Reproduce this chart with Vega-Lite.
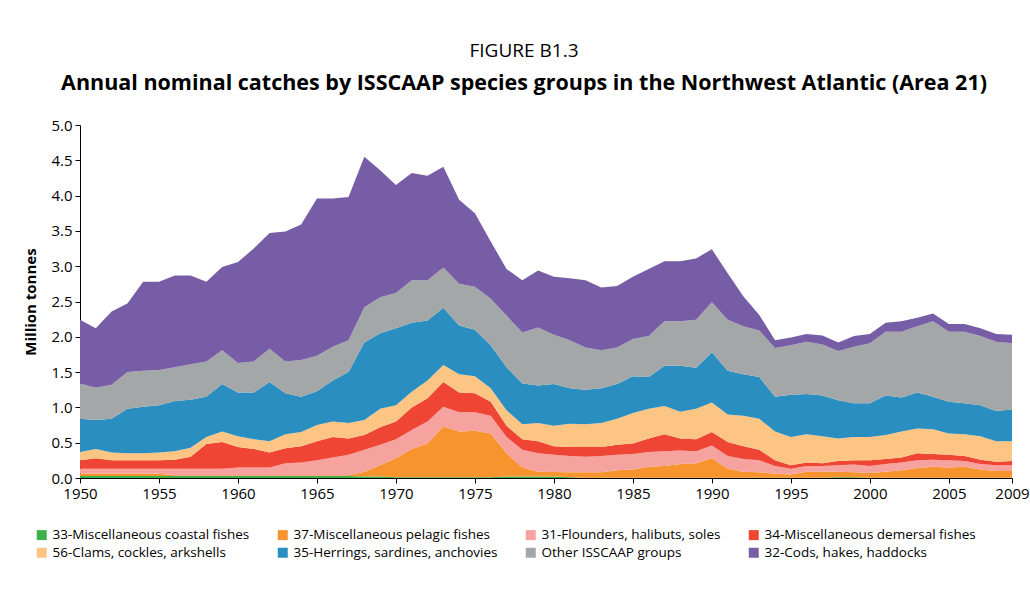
{
"$schema": "https://vega.github.io/schema/vega-lite/v6.json",
"width": 932, "height": 353,
"autosize": {"type": "none"},
"padding": {"left": 80, "top": 125, "right": 18, "bottom": 114},
"background": "white",
"config": {"view": {"stroke": null}, "font": "Open Sans"},
"title": {"text": "FIGURE B1.3", "subtitle": "Annual nominal catches by ISSCAAP species groups in the Northwest Atlantic (Area 21)", "anchor": "middle", "dx": -22, "fontSize": 19, "fontWeight": "normal", "color": "black", "subtitleFontSize": 21.5, "subtitleFontWeight": "bold", "subtitleColor": "black", "subtitleFont": "Open Sans", "offset": 24, "subtitlePadding": 12},
"data": {"values": [
{"y":1950,"g":"a","v":0.03},{"y":1950,"g":"b","v":0.035},{"y":1950,"g":"c","v":0.065},{"y":1950,"g":"d","v":0.12},{"y":1950,"g":"e","v":0.12},{"y":1950,"g":"f","v":0.47},{"y":1950,"g":"g","v":0.5},{"y":1950,"g":"h","v":0.9},
{"y":1951,"g":"a","v":0.03},{"y":1951,"g":"b","v":0.035},{"y":1951,"g":"c","v":0.065},{"y":1951,"g":"d","v":0.15},{"y":1951,"g":"e","v":0.13},{"y":1951,"g":"f","v":0.41},{"y":1951,"g":"g","v":0.46},{"y":1951,"g":"h","v":0.84},
{"y":1952,"g":"a","v":0.03},{"y":1952,"g":"b","v":0.035},{"y":1952,"g":"c","v":0.065},{"y":1952,"g":"d","v":0.12},{"y":1952,"g":"e","v":0.11},{"y":1952,"g":"f","v":0.48},{"y":1952,"g":"g","v":0.48},{"y":1952,"g":"h","v":1.04},
{"y":1953,"g":"a","v":0.03},{"y":1953,"g":"b","v":0.035},{"y":1953,"g":"c","v":0.065},{"y":1953,"g":"d","v":0.12},{"y":1953,"g":"e","v":0.1},{"y":1953,"g":"f","v":0.63},{"y":1953,"g":"g","v":0.52},{"y":1953,"g":"h","v":0.97},
{"y":1954,"g":"a","v":0.03},{"y":1954,"g":"b","v":0.035},{"y":1954,"g":"c","v":0.065},{"y":1954,"g":"d","v":0.12},{"y":1954,"g":"e","v":0.1},{"y":1954,"g":"f","v":0.66},{"y":1954,"g":"g","v":0.51},{"y":1954,"g":"h","v":1.26},
{"y":1955,"g":"a","v":0.03},{"y":1955,"g":"b","v":0.03},{"y":1955,"g":"c","v":0.07},{"y":1955,"g":"d","v":0.12},{"y":1955,"g":"e","v":0.11},{"y":1955,"g":"f","v":0.67},{"y":1955,"g":"g","v":0.5},{"y":1955,"g":"h","v":1.25},
{"y":1956,"g":"a","v":0.03},{"y":1956,"g":"b","v":0.01},{"y":1956,"g":"c","v":0.09},{"y":1956,"g":"d","v":0.13},{"y":1956,"g":"e","v":0.12},{"y":1956,"g":"f","v":0.71},{"y":1956,"g":"g","v":0.48},{"y":1956,"g":"h","v":1.3},
{"y":1957,"g":"a","v":0.03},{"y":1957,"g":"b","v":0.01},{"y":1957,"g":"c","v":0.09},{"y":1957,"g":"d","v":0.17},{"y":1957,"g":"e","v":0.13},{"y":1957,"g":"f","v":0.68},{"y":1957,"g":"g","v":0.5},{"y":1957,"g":"h","v":1.26},
{"y":1958,"g":"a","v":0.03},{"y":1958,"g":"b","v":0.01},{"y":1958,"g":"c","v":0.09},{"y":1958,"g":"d","v":0.35},{"y":1958,"g":"e","v":0.1},{"y":1958,"g":"f","v":0.57},{"y":1958,"g":"g","v":0.5},{"y":1958,"g":"h","v":1.13},
{"y":1959,"g":"a","v":0.03},{"y":1959,"g":"b","v":0.01},{"y":1959,"g":"c","v":0.09},{"y":1959,"g":"d","v":0.38},{"y":1959,"g":"e","v":0.15},{"y":1959,"g":"f","v":0.67},{"y":1959,"g":"g","v":0.48},{"y":1959,"g":"h","v":1.18},
{"y":1960,"g":"a","v":0.03},{"y":1960,"g":"b","v":0.01},{"y":1960,"g":"c","v":0.11},{"y":1960,"g":"d","v":0.29},{"y":1960,"g":"e","v":0.15},{"y":1960,"g":"f","v":0.62},{"y":1960,"g":"g","v":0.42},{"y":1960,"g":"h","v":1.43},
{"y":1961,"g":"a","v":0.03},{"y":1961,"g":"b","v":0.01},{"y":1961,"g":"c","v":0.11},{"y":1961,"g":"d","v":0.26},{"y":1961,"g":"e","v":0.14},{"y":1961,"g":"f","v":0.66},{"y":1961,"g":"g","v":0.44},{"y":1961,"g":"h","v":1.6},
{"y":1962,"g":"a","v":0.03},{"y":1962,"g":"b","v":0.01},{"y":1962,"g":"c","v":0.11},{"y":1962,"g":"d","v":0.21},{"y":1962,"g":"e","v":0.16},{"y":1962,"g":"f","v":0.84},{"y":1962,"g":"g","v":0.47},{"y":1962,"g":"h","v":1.64},
{"y":1963,"g":"a","v":0.03},{"y":1963,"g":"b","v":0.01},{"y":1963,"g":"c","v":0.17},{"y":1963,"g":"d","v":0.21},{"y":1963,"g":"e","v":0.2},{"y":1963,"g":"f","v":0.58},{"y":1963,"g":"g","v":0.45},{"y":1963,"g":"h","v":1.84},
{"y":1964,"g":"a","v":0.03},{"y":1964,"g":"b","v":0.01},{"y":1964,"g":"c","v":0.18},{"y":1964,"g":"d","v":0.23},{"y":1964,"g":"e","v":0.2},{"y":1964,"g":"f","v":0.5},{"y":1964,"g":"g","v":0.52},{"y":1964,"g":"h","v":1.92},
{"y":1965,"g":"a","v":0.03},{"y":1965,"g":"b","v":0.01},{"y":1965,"g":"c","v":0.21},{"y":1965,"g":"d","v":0.27},{"y":1965,"g":"e","v":0.23},{"y":1965,"g":"f","v":0.48},{"y":1965,"g":"g","v":0.5},{"y":1965,"g":"h","v":2.23},
{"y":1966,"g":"a","v":0.03},{"y":1966,"g":"b","v":0.01},{"y":1966,"g":"c","v":0.25},{"y":1966,"g":"d","v":0.29},{"y":1966,"g":"e","v":0.22},{"y":1966,"g":"f","v":0.58},{"y":1966,"g":"g","v":0.48},{"y":1966,"g":"h","v":2.1},
{"y":1967,"g":"a","v":0.03},{"y":1967,"g":"b","v":0.01},{"y":1967,"g":"c","v":0.29},{"y":1967,"g":"d","v":0.23},{"y":1967,"g":"e","v":0.22},{"y":1967,"g":"f","v":0.72},{"y":1967,"g":"g","v":0.45},{"y":1967,"g":"h","v":2.03},
{"y":1968,"g":"a","v":0.02},{"y":1968,"g":"b","v":0.07},{"y":1968,"g":"c","v":0.31},{"y":1968,"g":"d","v":0.21},{"y":1968,"g":"e","v":0.21},{"y":1968,"g":"f","v":1.1},{"y":1968,"g":"g","v":0.5},{"y":1968,"g":"h","v":2.13},
{"y":1969,"g":"a","v":0.02},{"y":1969,"g":"b","v":0.16},{"y":1969,"g":"c","v":0.29},{"y":1969,"g":"d","v":0.25},{"y":1969,"g":"e","v":0.26},{"y":1969,"g":"f","v":1.07},{"y":1969,"g":"g","v":0.51},{"y":1969,"g":"h","v":1.8},
{"y":1970,"g":"a","v":0.01},{"y":1970,"g":"b","v":0.27},{"y":1970,"g":"c","v":0.27},{"y":1970,"g":"d","v":0.25},{"y":1970,"g":"e","v":0.23},{"y":1970,"g":"f","v":1.09},{"y":1970,"g":"g","v":0.5},{"y":1970,"g":"h","v":1.53},
{"y":1971,"g":"a","v":0.01},{"y":1971,"g":"b","v":0.4},{"y":1971,"g":"c","v":0.27},{"y":1971,"g":"d","v":0.32},{"y":1971,"g":"e","v":0.22},{"y":1971,"g":"f","v":0.98},{"y":1971,"g":"g","v":0.6},{"y":1971,"g":"h","v":1.52},
{"y":1972,"g":"a","v":0.01},{"y":1972,"g":"b","v":0.48},{"y":1972,"g":"c","v":0.31},{"y":1972,"g":"d","v":0.33},{"y":1972,"g":"e","v":0.25},{"y":1972,"g":"f","v":0.85},{"y":1972,"g":"g","v":0.57},{"y":1972,"g":"h","v":1.48},
{"y":1973,"g":"a","v":0.01},{"y":1973,"g":"b","v":0.72},{"y":1973,"g":"c","v":0.28},{"y":1973,"g":"d","v":0.35},{"y":1973,"g":"e","v":0.24},{"y":1973,"g":"f","v":0.81},{"y":1973,"g":"g","v":0.57},{"y":1973,"g":"h","v":1.43},
{"y":1974,"g":"a","v":0.01},{"y":1974,"g":"b","v":0.65},{"y":1974,"g":"c","v":0.27},{"y":1974,"g":"d","v":0.28},{"y":1974,"g":"e","v":0.26},{"y":1974,"g":"f","v":0.69},{"y":1974,"g":"g","v":0.59},{"y":1974,"g":"h","v":1.19},
{"y":1975,"g":"a","v":0.01},{"y":1975,"g":"b","v":0.66},{"y":1975,"g":"c","v":0.26},{"y":1975,"g":"d","v":0.27},{"y":1975,"g":"e","v":0.24},{"y":1975,"g":"f","v":0.66},{"y":1975,"g":"g","v":0.61},{"y":1975,"g":"h","v":1.04},
{"y":1976,"g":"a","v":0.01},{"y":1976,"g":"b","v":0.62},{"y":1976,"g":"c","v":0.25},{"y":1976,"g":"d","v":0.2},{"y":1976,"g":"e","v":0.19},{"y":1976,"g":"f","v":0.61},{"y":1976,"g":"g","v":0.66},{"y":1976,"g":"h","v":0.81},
{"y":1977,"g":"a","v":0.02},{"y":1977,"g":"b","v":0.33},{"y":1977,"g":"c","v":0.23},{"y":1977,"g":"d","v":0.16},{"y":1977,"g":"e","v":0.22},{"y":1977,"g":"f","v":0.61},{"y":1977,"g":"g","v":0.73},{"y":1977,"g":"h","v":0.66},
{"y":1978,"g":"a","v":0.02},{"y":1978,"g":"b","v":0.13},{"y":1978,"g":"c","v":0.25},{"y":1978,"g":"d","v":0.15},{"y":1978,"g":"e","v":0.21},{"y":1978,"g":"f","v":0.58},{"y":1978,"g":"g","v":0.72},{"y":1978,"g":"h","v":0.74},
{"y":1979,"g":"a","v":0.02},{"y":1979,"g":"b","v":0.07},{"y":1979,"g":"c","v":0.26},{"y":1979,"g":"d","v":0.17},{"y":1979,"g":"e","v":0.26},{"y":1979,"g":"f","v":0.53},{"y":1979,"g":"g","v":0.82},{"y":1979,"g":"h","v":0.81},
{"y":1980,"g":"a","v":0.02},{"y":1980,"g":"b","v":0.065},{"y":1980,"g":"c","v":0.245},{"y":1980,"g":"d","v":0.12},{"y":1980,"g":"e","v":0.29},{"y":1980,"g":"f","v":0.59},{"y":1980,"g":"g","v":0.7},{"y":1980,"g":"h","v":0.82},
{"y":1981,"g":"a","v":0.01},{"y":1981,"g":"b","v":0.07},{"y":1981,"g":"c","v":0.23},{"y":1981,"g":"d","v":0.13},{"y":1981,"g":"e","v":0.33},{"y":1981,"g":"f","v":0.5},{"y":1981,"g":"g","v":0.68},{"y":1981,"g":"h","v":0.88},
{"y":1982,"g":"a","v":0.005},{"y":1982,"g":"b","v":0.075},{"y":1982,"g":"c","v":0.22},{"y":1982,"g":"d","v":0.14},{"y":1982,"g":"e","v":0.32},{"y":1982,"g":"f","v":0.49},{"y":1982,"g":"g","v":0.6},{"y":1982,"g":"h","v":0.95},
{"y":1983,"g":"a","v":0.005},{"y":1983,"g":"b","v":0.075},{"y":1983,"g":"c","v":0.23},{"y":1983,"g":"d","v":0.13},{"y":1983,"g":"e","v":0.34},{"y":1983,"g":"f","v":0.49},{"y":1983,"g":"g","v":0.54},{"y":1983,"g":"h","v":0.89},
{"y":1984,"g":"a","v":0.005},{"y":1984,"g":"b","v":0.105},{"y":1984,"g":"c","v":0.22},{"y":1984,"g":"d","v":0.14},{"y":1984,"g":"e","v":0.37},{"y":1984,"g":"f","v":0.49},{"y":1984,"g":"g","v":0.52},{"y":1984,"g":"h","v":0.87},
{"y":1985,"g":"a","v":0.005},{"y":1985,"g":"b","v":0.115},{"y":1985,"g":"c","v":0.22},{"y":1985,"g":"d","v":0.15},{"y":1985,"g":"e","v":0.43},{"y":1985,"g":"f","v":0.52},{"y":1985,"g":"g","v":0.53},{"y":1985,"g":"h","v":0.88},
{"y":1986,"g":"a","v":0.005},{"y":1986,"g":"b","v":0.155},{"y":1986,"g":"c","v":0.21},{"y":1986,"g":"d","v":0.19},{"y":1986,"g":"e","v":0.42},{"y":1986,"g":"f","v":0.45},{"y":1986,"g":"g","v":0.58},{"y":1986,"g":"h","v":0.95},
{"y":1987,"g":"a","v":0.005},{"y":1987,"g":"b","v":0.165},{"y":1987,"g":"c","v":0.21},{"y":1987,"g":"d","v":0.24},{"y":1987,"g":"e","v":0.4},{"y":1987,"g":"f","v":0.57},{"y":1987,"g":"g","v":0.63},{"y":1987,"g":"h","v":0.85},
{"y":1988,"g":"a","v":0.005},{"y":1988,"g":"b","v":0.195},{"y":1988,"g":"c","v":0.19},{"y":1988,"g":"d","v":0.17},{"y":1988,"g":"e","v":0.38},{"y":1988,"g":"f","v":0.65},{"y":1988,"g":"g","v":0.63},{"y":1988,"g":"h","v":0.85},
{"y":1989,"g":"a","v":0.005},{"y":1989,"g":"b","v":0.205},{"y":1989,"g":"c","v":0.17},{"y":1989,"g":"d","v":0.17},{"y":1989,"g":"e","v":0.43},{"y":1989,"g":"f","v":0.58},{"y":1989,"g":"g","v":0.68},{"y":1989,"g":"h","v":0.87},
{"y":1990,"g":"a","v":0.005},{"y":1990,"g":"b","v":0.275},{"y":1990,"g":"c","v":0.18},{"y":1990,"g":"d","v":0.19},{"y":1990,"g":"e","v":0.42},{"y":1990,"g":"f","v":0.71},{"y":1990,"g":"g","v":0.71},{"y":1990,"g":"h","v":0.75},
{"y":1991,"g":"a","v":0.005},{"y":1991,"g":"b","v":0.125},{"y":1991,"g":"c","v":0.18},{"y":1991,"g":"d","v":0.2},{"y":1991,"g":"e","v":0.39},{"y":1991,"g":"f","v":0.62},{"y":1991,"g":"g","v":0.72},{"y":1991,"g":"h","v":0.66},
{"y":1992,"g":"a","v":0.005},{"y":1992,"g":"b","v":0.085},{"y":1992,"g":"c","v":0.18},{"y":1992,"g":"d","v":0.18},{"y":1992,"g":"e","v":0.43},{"y":1992,"g":"f","v":0.59},{"y":1992,"g":"g","v":0.68},{"y":1992,"g":"h","v":0.42},
{"y":1993,"g":"a","v":0.005},{"y":1993,"g":"b","v":0.075},{"y":1993,"g":"c","v":0.17},{"y":1993,"g":"d","v":0.15},{"y":1993,"g":"e","v":0.44},{"y":1993,"g":"f","v":0.59},{"y":1993,"g":"g","v":0.66},{"y":1993,"g":"h","v":0.22},
{"y":1994,"g":"a","v":0.005},{"y":1994,"g":"b","v":0.055},{"y":1994,"g":"c","v":0.11},{"y":1994,"g":"d","v":0.08},{"y":1994,"g":"e","v":0.41},{"y":1994,"g":"f","v":0.49},{"y":1994,"g":"g","v":0.69},{"y":1994,"g":"h","v":0.11},
{"y":1995,"g":"a","v":0.005},{"y":1995,"g":"b","v":0.045},{"y":1995,"g":"c","v":0.08},{"y":1995,"g":"d","v":0.05},{"y":1995,"g":"e","v":0.4},{"y":1995,"g":"f","v":0.6},{"y":1995,"g":"g","v":0.7},{"y":1995,"g":"h","v":0.11},
{"y":1996,"g":"a","v":0.005},{"y":1996,"g":"b","v":0.085},{"y":1996,"g":"c","v":0.08},{"y":1996,"g":"d","v":0.05},{"y":1996,"g":"e","v":0.4},{"y":1996,"g":"f","v":0.57},{"y":1996,"g":"g","v":0.74},{"y":1996,"g":"h","v":0.11},
{"y":1997,"g":"a","v":0.005},{"y":1997,"g":"b","v":0.085},{"y":1997,"g":"c","v":0.08},{"y":1997,"g":"d","v":0.04},{"y":1997,"g":"e","v":0.38},{"y":1997,"g":"f","v":0.58},{"y":1997,"g":"g","v":0.72},{"y":1997,"g":"h","v":0.13},
{"y":1998,"g":"a","v":0.01},{"y":1998,"g":"b","v":0.08},{"y":1998,"g":"c","v":0.09},{"y":1998,"g":"d","v":0.06},{"y":1998,"g":"e","v":0.32},{"y":1998,"g":"f","v":0.54},{"y":1998,"g":"g","v":0.7},{"y":1998,"g":"h","v":0.12},
{"y":1999,"g":"a","v":0.01},{"y":1999,"g":"b","v":0.07},{"y":1999,"g":"c","v":0.11},{"y":1999,"g":"d","v":0.06},{"y":1999,"g":"e","v":0.33},{"y":1999,"g":"f","v":0.48},{"y":1999,"g":"g","v":0.8},{"y":1999,"g":"h","v":0.15},
{"y":2000,"g":"a","v":0.003},{"y":2000,"g":"b","v":0.067},{"y":2000,"g":"c","v":0.1},{"y":2000,"g":"d","v":0.08},{"y":2000,"g":"e","v":0.33},{"y":2000,"g":"f","v":0.48},{"y":2000,"g":"g","v":0.85},{"y":2000,"g":"h","v":0.13},
{"y":2001,"g":"a","v":0.003},{"y":2001,"g":"b","v":0.087},{"y":2001,"g":"c","v":0.11},{"y":2001,"g":"d","v":0.07},{"y":2001,"g":"e","v":0.34},{"y":2001,"g":"f","v":0.56},{"y":2001,"g":"g","v":0.9},{"y":2001,"g":"h","v":0.13},
{"y":2002,"g":"a","v":0.003},{"y":2002,"g":"b","v":0.107},{"y":2002,"g":"c","v":0.11},{"y":2002,"g":"d","v":0.07},{"y":2002,"g":"e","v":0.37},{"y":2002,"g":"f","v":0.48},{"y":2002,"g":"g","v":0.93},{"y":2002,"g":"h","v":0.15},
{"y":2003,"g":"a","v":0.003},{"y":2003,"g":"b","v":0.137},{"y":2003,"g":"c","v":0.11},{"y":2003,"g":"d","v":0.1},{"y":2003,"g":"e","v":0.35},{"y":2003,"g":"f","v":0.51},{"y":2003,"g":"g","v":0.94},{"y":2003,"g":"h","v":0.12},
{"y":2004,"g":"a","v":0.003},{"y":2004,"g":"b","v":0.157},{"y":2004,"g":"c","v":0.1},{"y":2004,"g":"d","v":0.08},{"y":2004,"g":"e","v":0.35},{"y":2004,"g":"f","v":0.46},{"y":2004,"g":"g","v":1.07},{"y":2004,"g":"h","v":0.11},
{"y":2005,"g":"a","v":0.003},{"y":2005,"g":"b","v":0.147},{"y":2005,"g":"c","v":0.1},{"y":2005,"g":"d","v":0.08},{"y":2005,"g":"e","v":0.3},{"y":2005,"g":"f","v":0.45},{"y":2005,"g":"g","v":0.99},{"y":2005,"g":"h","v":0.11},
{"y":2006,"g":"a","v":0.003},{"y":2006,"g":"b","v":0.157},{"y":2006,"g":"c","v":0.08},{"y":2006,"g":"d","v":0.07},{"y":2006,"g":"e","v":0.31},{"y":2006,"g":"f","v":0.44},{"y":2006,"g":"g","v":1.01},{"y":2006,"g":"h","v":0.11},
{"y":2007,"g":"a","v":0.003},{"y":2007,"g":"b","v":0.117},{"y":2007,"g":"c","v":0.08},{"y":2007,"g":"d","v":0.06},{"y":2007,"g":"e","v":0.33},{"y":2007,"g":"f","v":0.44},{"y":2007,"g":"g","v":0.98},{"y":2007,"g":"h","v":0.11},
{"y":2008,"g":"a","v":0.003},{"y":2008,"g":"b","v":0.097},{"y":2008,"g":"c","v":0.08},{"y":2008,"g":"d","v":0.05},{"y":2008,"g":"e","v":0.29},{"y":2008,"g":"f","v":0.43},{"y":2008,"g":"g","v":0.98},{"y":2008,"g":"h","v":0.11},
{"y":2009,"g":"a","v":0.003},{"y":2009,"g":"b","v":0.097},{"y":2009,"g":"c","v":0.08},{"y":2009,"g":"d","v":0.06},{"y":2009,"g":"e","v":0.28},{"y":2009,"g":"f","v":0.45},{"y":2009,"g":"g","v":0.94},{"y":2009,"g":"h","v":0.12}
]},
"mark": {"type": "area", "interpolate": "linear"},
"encoding": {
"x": {"field": "y", "type": "quantitative", "scale": {"domain": [1950, 2009], "nice": false, "zero": false},
 "axis": {"values": [1950,1955,1960,1965,1970,1975,1980,1985,1990,1995,2000,2005,2009], "format": "d", "title": null, "grid": false, "labelFontSize": 15, "labelColor": "black", "domainColor": "black", "tickColor": "black", "tickSize": 5, "labelPadding": 3, "labelFlush": false}},
"y": {"field": "v", "type": "quantitative", "stack": "zero", "scale": {"domain": [0, 5], "nice": false},
 "axis": {"values": [0,0.5,1,1.5,2,2.5,3,3.5,4,4.5,5], "format": ".1f", "title": "Million tonnes", "titleFontSize": 15, "titleFontWeight": "bold", "titleColor": "black", "titlePadding": 12, "grid": false, "labelFontSize": 15, "labelColor": "black", "domainColor": "black", "tickColor": "black", "tickSize": 5, "labelPadding": 3}},
"order": {"field": "g", "type": "nominal", "sort": "ascending"},
"color": {"field": "g", "type": "nominal",
 "scale": {"domain": ["a","e","b","f","c","g","d","h"], "range": ["#3cb04a","#fdc584","#f7942e","#2b8ec0","#f6a29e","#a4a7a8","#ef4535","#775ca6"]},
 "legend": {"orient": "none", "legendX": -45, "legendY": 403, "columns": 4, "title": null, "symbolType": "square", "symbolSize": 100, "symbolStrokeWidth": 0, "labelFontSize": 13.5, "labelColor": "black", "rowPadding": 3, "columnPadding": 26, "labelLimit": 400,
  "labelExpr": "datum.label == 'a' ? '33-Miscellaneous coastal fishes' : datum.label == 'b' ? '37-Miscellaneous pelagic fishes' : datum.label == 'c' ? '31-Flounders, halibuts, soles' : datum.label == 'd' ? '34-Miscellaneous demersal fishes' : datum.label == 'e' ? '56-Clams, cockles, arkshells' : datum.label == 'f' ? '35-Herrings, sardines, anchovies' : datum.label == 'g' ? 'Other ISSCAAP groups' : '32-Cods, hakes, haddocks'"}}
}
}
